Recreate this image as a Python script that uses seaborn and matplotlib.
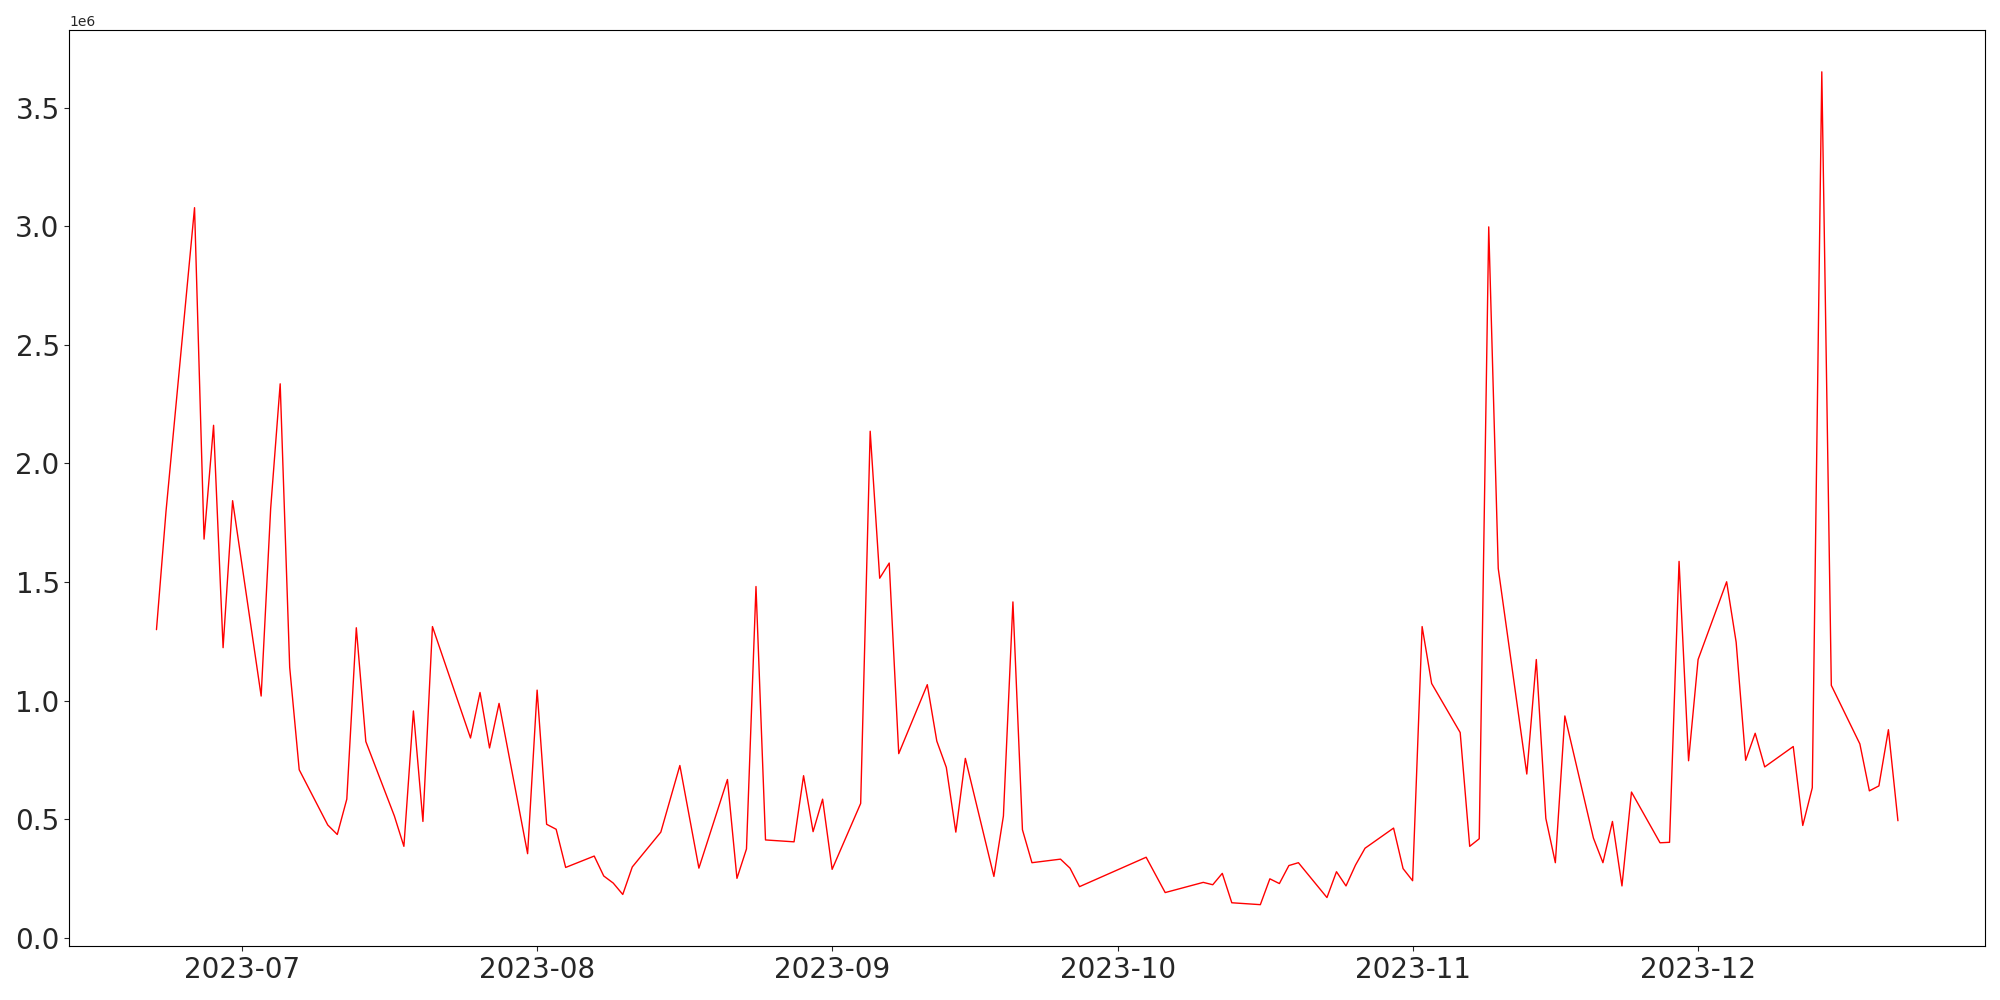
import matplotlib
matplotlib.use("Agg")
import matplotlib.pyplot as plt
import seaborn as sns
import pandas as pd

dates = [
    "2023-06-22", "2023-06-23", "2023-06-26", "2023-06-27", "2023-06-28", "2023-06-29", "2023-06-30",
    "2023-07-03", "2023-07-04", "2023-07-05", "2023-07-06", "2023-07-07",
    "2023-07-10", "2023-07-11", "2023-07-12", "2023-07-13", "2023-07-14",
    "2023-07-17", "2023-07-18", "2023-07-19", "2023-07-20", "2023-07-21",
    "2023-07-25", "2023-07-26", "2023-07-27", "2023-07-28",
    "2023-07-31", "2023-08-01", "2023-08-02", "2023-08-03", "2023-08-04",
    "2023-08-07", "2023-08-08", "2023-08-09", "2023-08-10", "2023-08-11",
    "2023-08-14", "2023-08-16", "2023-08-18",
    "2023-08-21", "2023-08-22", "2023-08-23", "2023-08-24", "2023-08-25",
    "2023-08-28", "2023-08-29", "2023-08-30", "2023-08-31", "2023-09-01",
    "2023-09-04", "2023-09-05", "2023-09-06", "2023-09-07", "2023-09-08",
    "2023-09-11", "2023-09-12", "2023-09-13", "2023-09-14", "2023-09-15",
    "2023-09-18", "2023-09-19", "2023-09-20", "2023-09-21", "2023-09-22",
    "2023-09-25", "2023-09-26", "2023-09-27",
    "2023-10-04", "2023-10-06",
    "2023-10-10", "2023-10-11", "2023-10-12", "2023-10-13",
    "2023-10-16", "2023-10-17", "2023-10-18", "2023-10-19", "2023-10-20",
    "2023-10-23", "2023-10-24", "2023-10-25", "2023-10-26", "2023-10-27",
    "2023-10-30", "2023-10-31", "2023-11-01", "2023-11-02", "2023-11-03",
    "2023-11-06", "2023-11-07", "2023-11-08", "2023-11-09", "2023-11-10",
    "2023-11-13", "2023-11-14", "2023-11-15", "2023-11-16", "2023-11-17",
    "2023-11-20", "2023-11-21", "2023-11-22", "2023-11-23", "2023-11-24",
    "2023-11-27", "2023-11-28", "2023-11-29", "2023-11-30", "2023-12-01",
    "2023-12-04", "2023-12-05", "2023-12-06", "2023-12-07", "2023-12-08",
    "2023-12-11", "2023-12-12", "2023-12-13", "2023-12-14", "2023-12-15",
    "2023-12-18", "2023-12-19", "2023-12-20", "2023-12-21", "2023-12-22",
]

values = [
    1.299, 1.797, 3.079, 1.681, 2.161, 1.223, 1.843,
    1.019, 1.810, 2.336, 1.140, 0.708,
    0.475, 0.435, 0.584, 1.307, 0.827,
    0.513, 0.385, 0.956, 0.490, 1.312,
    0.842, 1.034, 0.800, 0.988,
    0.354, 1.044, 0.478, 0.457, 0.296,
    0.344, 0.260, 0.230, 0.182, 0.298,
    0.445, 0.726, 0.293,
    0.667, 0.250, 0.374, 1.481, 0.412,
    0.404, 0.683, 0.447, 0.584, 0.288,
    0.566, 2.136, 1.516, 1.580, 0.776,
    1.067, 0.829, 0.718, 0.445, 0.756,
    0.258, 0.513, 1.416, 0.455, 0.316,
    0.331, 0.293, 0.215,
    0.339, 0.190,
    0.233, 0.223, 0.271, 0.147,
    0.139, 0.248, 0.228, 0.304, 0.316,
    0.169, 0.278, 0.218, 0.306, 0.377,
    0.462, 0.291, 0.240, 1.312, 1.072,
    0.865, 0.385, 0.417, 2.998, 1.557,
    0.690, 1.173, 0.503, 0.316, 0.935,
    0.420, 0.316, 0.490, 0.218, 0.614,
    0.400, 0.402, 1.587, 0.746, 1.173,
    1.501, 1.246, 0.748, 0.862, 0.720,
    0.806, 0.473, 0.632, 3.652, 1.064,
    0.817, 0.619, 0.640, 0.877, 0.493,
]

df = pd.DataFrame({"date": pd.to_datetime(dates), "value": [v * 1e6 for v in values]})

sns.set_style("ticks")
plt.rcParams["font.family"] = ["DejaVu Sans"]

fig, ax = plt.subplots(figsize=(20, 10), dpi=100)
sns.lineplot(data=df, x="date", y="value", color="red", linewidth=1.0, ax=ax)
ax.set_xlabel("")
ax.set_ylabel("")
ax.tick_params(axis="both", labelsize=20)
for s in ax.spines.values():
    s.set_visible(True)
    s.set_color("black")
fig.subplots_adjust(left=0.0347, right=0.9925, top=0.9698, bottom=0.0537)
fig.savefig("out.png", dpi=100)
